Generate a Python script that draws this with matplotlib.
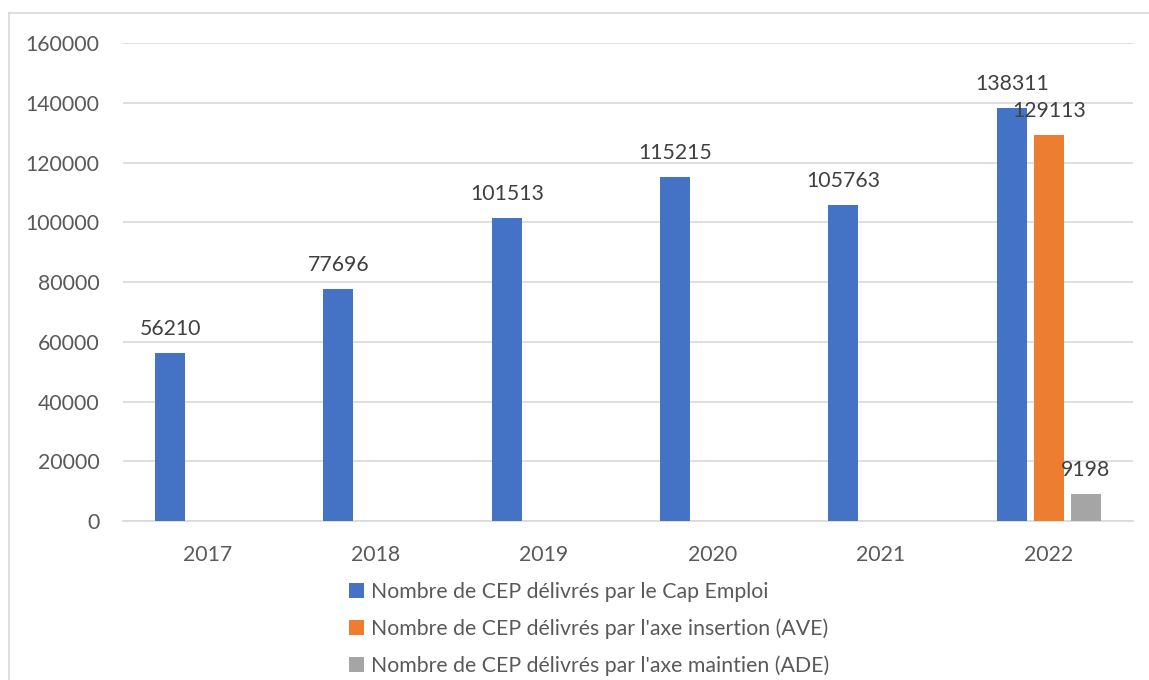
import matplotlib
matplotlib.use("Agg")
import matplotlib.pyplot as plt
from matplotlib.patches import Patch
from matplotlib.lines import Line2D
import numpy as np

plt.rcParams['font.family'] = ['Lato', 'DejaVu Sans']

years = ["2017", "2018", "2019", "2020", "2021", "2022"]
cap_emploi = [56210, 77696, 101513, 115215, 105763, 138311]
axe_insertion = [np.nan, np.nan, np.nan, np.nan, np.nan, 129113]
axe_maintien = [np.nan, np.nan, np.nan, np.nan, np.nan, 9198]
series_names = [
    "Nombre de CEP délivrés par le Cap Emploi",
    "Nombre de CEP délivrés par l'axe insertion (AVE)",
    "Nombre de CEP délivrés par l'axe maintien (ADE)",
]
colors = ["#4472C4", "#ED7D31", "#A5A5A5"]
yticks = [0, 20000, 40000, 60000, 80000, 100000, 120000, 140000, 160000]

txt = "#595959"
W, H = 1149, 680
fig = plt.figure(figsize=(W / 100, H / 100), dpi=100)
ax = fig.add_axes([123 / W, 1 - 521 / H, (1133 - 123) / W, (521 - 43) / H])

x = np.arange(len(years))
offsets = [-0.22, 0.0, 0.22]
width = 0.178
for vals, off, col in zip([cap_emploi, axe_insertion, axe_maintien], offsets, colors):
    bars = ax.bar(x + off, vals, width=width, color=col, zorder=3)
    labels = ["" if np.isnan(v) else f"{int(v)}" for v in np.asarray(vals, dtype=float)]
    ax.bar_label(bars, labels=labels, padding=10, fontsize=15.3, color="#404040")

ax.set_xlim(-0.5, 5.5)
ax.set_ylim(0, 160000)
ax.set_yticks(yticks)
ax.set_yticklabels([str(t) for t in yticks])
ax.set_xticks(x)
ax.set_xticklabels(years)
ax.tick_params(axis='both', length=0, labelsize=15.3, labelcolor=txt)
ax.tick_params(axis='y', pad=17)
ax.tick_params(axis='x', pad=17)
ax.grid(axis='y', color="#D9D9D9", linewidth=1.2, zorder=0)
for s in ['top', 'right', 'left']:
    ax.spines[s].set_visible(False)
ax.spines['bottom'].set_color("#D9D9D9")
ax.spines['bottom'].set_linewidth(1.2)

handles = [Patch(facecolor=c, edgecolor='none') for c in colors]
fig.legend(handles, series_names, loc='upper left',
           bbox_to_anchor=(349 / W, 1 - 582 / H), bbox_transform=fig.transFigure,
           frameon=False, fontsize=15.3, labelcolor=txt, handlelength=0.7,
           handleheight=0.7, handletextpad=0.35, labelspacing=0.78,
           borderpad=0, borderaxespad=0)

# outer chart border (top and left visible)
fig.add_artist(Line2D([9 / W, 1.0], [1 - 13 / H, 1 - 13 / H], transform=fig.transFigure,
                      color="#D9D9D9", linewidth=1.2))
fig.add_artist(Line2D([9 / W, 9 / W], [1 - 13 / H, 0.0], transform=fig.transFigure,
                      color="#D9D9D9", linewidth=1.2))

fig.savefig("out.png", dpi=100)
